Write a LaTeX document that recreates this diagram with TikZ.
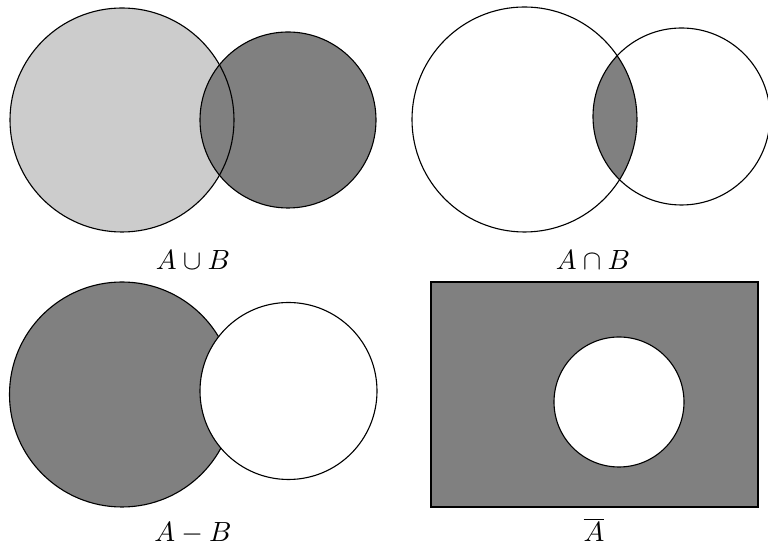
\documentclass[tikz,border=0pt]{standalone}
\usepackage{tikz}

\begin{document}
\begin{tikzpicture}[
            x=0.36pt, y=-0.36pt,
            set/.style={draw=black, thin},
            light/.style={set, fill=gray!40},
            dark/.style={set, fill=gray},
            blank/.style={set, fill=white},
            lbl/.style={anchor=base},
        ]
        \useasboundingbox (0,0) rectangle (768,548);

        % union
        \fill[gray!40] (122,120) circle (112);
        \fill[gray] (288,120) circle (88);
        \draw[set] (122,120) circle (112);
        \draw[set] (288,120) circle (88);
        \node[lbl] (union) at (193,270) {$A \cup B$};

        % intersection
        \begin{scope}
            \clip (524.5,119.5) circle (112.5);
            \fill[gray] (681.5,116.5) circle (88.5);
        \end{scope}
        \draw[set] (524.5,119.5) circle (112.5);
        \draw[set] (681.5,116.5) circle (88.5);
        \node[lbl] (inter) at (593,270) {$A \cap B$};

        % difference
        \draw[dark] (122,394.5) circle (112.5);
        \draw[blank] (288.5,391) circle (88.5);
        \node[lbl] (diff) at (193,542) {$A - B$};

        % complement
        \draw[dark] (431,282) rectangle (758,507);
        \draw[blank] (619,402) circle (65);
        \node[lbl] (compl) at (594,542) {$\overline{A}$};

    \end{tikzpicture}
\end{document}
